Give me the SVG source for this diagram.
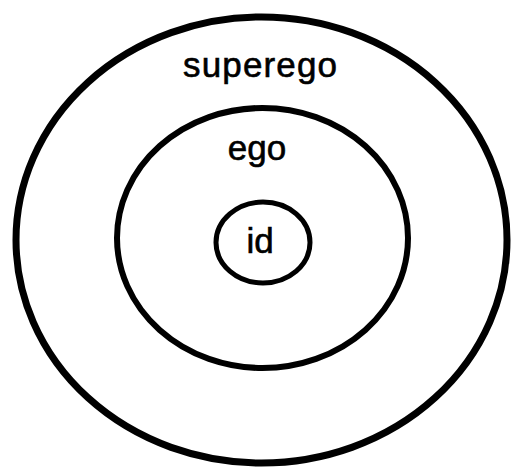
<svg xmlns="http://www.w3.org/2000/svg" width="513" height="468" viewBox="0 0 513 468">
<style>
.ring{fill:none;stroke:#000}
.lbl{font-family:"Liberation Sans",Arial,sans-serif;font-size:35px;fill:#000;stroke:#000;stroke-width:0.6;text-anchor:middle}
</style>
<rect width="513" height="468" fill="#fff"/>
<g id="superego">
<ellipse class="ring" cx="261.5" cy="240" rx="245.5" ry="223" stroke-width="7"/>
<text class="lbl" x="260" y="77" textLength="154" lengthAdjust="spacing">superego</text>
</g>
<g id="ego">
<ellipse class="ring" cx="262.5" cy="238" rx="145.5" ry="130" stroke-width="6"/>
<text class="lbl" x="257" y="160">ego</text>
</g>
<g id="id">
<ellipse class="ring" cx="263" cy="242.5" rx="47" ry="40.5" stroke-width="5"/>
<text class="lbl" x="260" y="253">id</text>
</g>
<g id="connectors"/>
</svg>
